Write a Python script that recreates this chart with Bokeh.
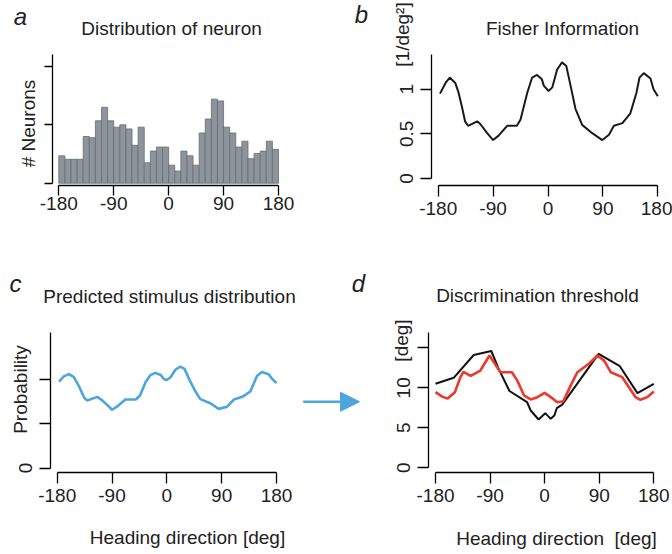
import math
from bokeh.plotting import figure
from bokeh.layouts import column, row
from bokeh.models import (Range1d, FixedTicker, Label, Arrow, NormalHead, GridBox)
from bokeh.embed import file_html
from bokeh.resources import INLINE

# ---------------- data ----------------
XTICKS = [-180, -90, 0, 90, 180]
XTICK_LABELS = ["-180", "-90", "0", "90", "180"]

# (a) histogram of preferred heading (36 bins of 10 deg)
hist_centers = [-175, -165, -155, -145, -135, -125, -115, -105, -95, -85,
                -75, -65, -55, -45, -35, -25, -15, -5, 5, 15,
                25, 35, 45, 55, 65, 75, 85, 95, 105, 115,
                125, 135, 145, 155, 165, 175]
hist_counts = [0.47, 0.41, 0.41, 0.41, 0.80, 0.78, 1.07, 1.30, 1.07, 0.96,
               1.00, 0.93, 0.65, 0.96, 0.35, 0.55, 0.62, 0.62, 0.31, 0.21,
               0.55, 0.47, 0.31, 0.86, 1.10, 1.44, 1.41, 0.96, 0.86, 0.62,
               0.72, 0.42, 0.51, 0.55, 0.72, 0.58]

# (b) Fisher information
fi_x = [-177, -168, -161, -152, -147, -141, -136, -131, -116, -111, -100, -90,
        -81, -67, -51, -45, -34, -26, -18, -10, -7, 1, 7, 15, 23, 30, 37, 45,
        56, 72, 89, 100, 108, 122, 135, 145, 150, 157, 168, 173, 180]
fi_y = [0.95, 1.07, 1.13, 1.07, 0.97, 0.80, 0.64, 0.59, 0.64, 0.61, 0.51, 0.43,
        0.48, 0.59, 0.59, 0.66, 0.96, 1.13, 1.16, 1.11, 1.04, 0.98, 1.02, 1.22,
        1.30, 1.26, 1.04, 0.78, 0.60, 0.51, 0.43, 0.49, 0.59, 0.62, 0.73, 0.96,
        1.13, 1.18, 1.12, 1.00, 0.92]

# (c) predicted stimulus distribution (arbitrary units)
pr_x = [-177, -169, -161, -153, -145, -139, -136, -131, -114, -106, -98, -90,
        -82, -68, -51, -44, -35, -27, -19, -10, -5, 0, 6, 14, 22, 29, 39, 47,
        55, 72, 85, 99, 110, 124, 137, 148, 156, 167, 173, 180]
pr_y = [1.94, 2.06, 2.11, 2.05, 1.86, 1.68, 1.59, 1.52, 1.60, 1.52, 1.42, 1.31,
        1.38, 1.54, 1.54, 1.63, 1.93, 2.09, 2.14, 2.09, 2.00, 1.98, 2.04, 2.21,
        2.28, 2.23, 1.93, 1.72, 1.55, 1.45, 1.33, 1.38, 1.54, 1.60, 1.72, 2.07,
        2.16, 2.11, 2.00, 1.91]

# (d) discrimination threshold: black = data, red = prediction
thr_black_x = [-180, -150, -117, -88, -76, -58, -29, -23, -10, 1, 10, 16, 20,
               29, 89, 124, 153, 180]
thr_black_y = [10.5, 11.25, 14.1, 14.6, 12.4, 9.6, 8.2, 7.16, 6.04, 6.83, 6.12,
               6.54, 7.45, 7.9, 14.25, 12.7, 9.33, 10.5]
thr_red_x = [-180, -169, -160, -148, -139, -134, -122, -106, -91, -73, -54,
             -45, -34, -23, -12, 0, 10, 21, 31, 43, 54, 73, 87, 98, 109, 128,
             139, 150, 158, 169, 180]
thr_red_y = [9.45, 8.9, 8.65, 9.45, 11.3, 12.0, 11.5, 12.16, 14.04, 11.95, 11.95,
             10.9, 9.04, 8.54, 8.83, 9.37, 8.83, 8.2, 8.33, 10.3, 11.95, 13.0,
             14.04, 13.4, 11.95, 11.33, 10.08, 8.83, 8.5, 8.83, 9.54]

# ---------------- style ----------------
FONT = "Liberation Sans"
TXT = "#222222"
FS = "19px"
BLUE = "#4ca6dd"
RED = "#e93a2b"
W, H = 672, 554
COL_W = [380, 292]
ROW_H = [270, 284]


class Panel:
    """Pixel geometry of one panel (page coordinates)."""
    def __init__(self, ox, oy, w, h, fl, fr, ft, fb, xm180, xp180, y0, yunit):
        self.ox, self.oy, self.w, self.h = ox, oy, w, h
        self.fl, self.fr, self.ft, self.fb = fl, fr, ft, fb
        self.k = (xp180 - xm180) / 360.0
        self.xm180 = xm180
        self.y0, self.yunit = y0, yunit
        self.x_start = -180 - (xm180 - fl) / self.k
        self.x_end = 180 + (fr - xp180) / self.k
        self.y_start = -(fb - y0) / yunit
        self.y_end = (y0 - ft) / yunit

    def dx(self, px):
        return -180 + (px - self.xm180) / self.k

    def dy(self, py):
        return (self.y0 - py) / self.yunit


def make_fig(g):
    p = figure(width=g.w, height=g.h, output_backend="svg", toolbar_location=None,
               x_range=Range1d(g.x_start, g.x_end), y_range=Range1d(g.y_start, g.y_end),
               min_border_left=int(round(g.fl - g.ox)), min_border_right=int(round(g.ox + g.w - g.fr)),
               min_border_top=int(round(g.ft - g.oy)), min_border_bottom=int(round(g.oy + g.h - g.fb)))
    p.outline_line_color = None
    p.grid.visible = False
    p.background_fill_color = "white"
    p.border_fill_color = "white"
    for ax in (p.xaxis[0], p.yaxis[0]):
        ax.axis_line_color = "black"
        ax.axis_line_width = 1.3
        ax.major_tick_line_color = "black"
        ax.major_tick_line_width = 1.3
        ax.major_tick_in = 0
        ax.major_tick_out = 11
        ax.minor_tick_line_color = None
        ax.major_label_text_font = FONT
        ax.major_label_text_font_size = FS
        ax.major_label_text_color = TXT
    xa = p.xaxis[0]
    xa.ticker = FixedTicker(ticks=XTICKS)
    xa.major_label_overrides = dict(zip(XTICKS, XTICK_LABELS))
    xa.bounds = (-180, 180)
    xa.major_label_standoff = 5
    ya = p.yaxis[0]
    ya.bounds = (0, g.y_end)
    ya.major_label_orientation = "vertical"
    ya.major_label_standoff = 7
    return p


# overlay figure in page-pixel coordinates for all free text
ov = figure(width=W, height=H, output_backend="svg", toolbar_location=None,
            x_range=Range1d(0, W), y_range=Range1d(H, 0),
            x_axis_type=None, y_axis_type=None,
            min_border_left=0, min_border_right=0, min_border_top=0, min_border_bottom=0)
ov.outline_line_color = None
ov.background_fill_alpha = 0
ov.border_fill_alpha = 0
ov.border_fill_color = None
ov.background_fill_color = None


def text(px, py, s, size=FS, style="normal", angle=0.0):
    """Text centred (both ways) on page pixel (px, py)."""
    ov.add_layout(Label(x=px, y=py, text=s, text_font=FONT,
                        text_font_size=size, text_font_style=style, text_color=TXT,
                        text_align="center", text_baseline="middle", angle=angle))


HALF = math.pi / 2

# ---- panel a ----
ga = Panel(0, 0, COL_W[0], ROW_H[0], 52, 380, 52, 185, 58.3, 278.0, 182.7, 59.3)
pa = make_fig(ga)
pa.vbar(x=hist_centers, top=hist_counts, bottom=0, width=10,
        fill_color="#8d949b", line_color="#666d74", line_width=0.8)
pa.yaxis[0].ticker = FixedTicker(ticks=[0, 1, 2])
pa.yaxis[0].major_label_overrides = {0: "", 1: "", 2: ""}
pa.yaxis[0].major_tick_out = 8
pa.xaxis[0].major_tick_out = 10
pa.xaxis[0].major_label_standoff = 1
text(20, 16, "a", size="24px", style="italic")
text(171, 28, "Distribution of neuron")
text(28, 123, "# Neurons", angle=HALF)

# ---- panel b ----
gb = Panel(COL_W[0], 0, COL_W[1], ROW_H[0], 431, 672, 54, 190, 437.7, 657.3, 182.7, 92.7)
pb = make_fig(gb)
pb.line(fi_x, fi_y, line_color="#1a1a1a", line_width=2.0)
pb.yaxis[0].ticker = FixedTicker(ticks=[0, 0.5, 1])
pb.yaxis[0].major_label_overrides = {0: "0", 0.5: "0.5", 1: "1"}
text(361, 14, "b", size="24px", style="italic")
text(562, 28, "Fisher Information")
text(402, 34, "[1/deg\u00b2]", angle=HALF)

# ---- panel c ----
gc = Panel(0, ROW_H[0], COL_W[0], ROW_H[1], 50, 380, 325, 472, 56.7, 276.0, 467.3, 46.7)
pc = make_fig(gc)
pc.line(pr_x, pr_y, line_color=BLUE, line_width=2.6)
pc.yaxis[0].ticker = FixedTicker(ticks=[0, 1, 2])
pc.yaxis[0].major_label_overrides = {0: "0", 1: "", 2: ""}
ARROW_Y = 397.7
pc.add_layout(Arrow(x_start=gc.dx(302.7), y_start=gc.dy(ARROW_Y),
                    x_end=gc.dx(359.0), y_end=gc.dy(ARROW_Y),
                    line_color=BLUE, line_width=2.6,
                    end=NormalHead(size=19, fill_color=BLUE, line_color=BLUE, line_width=1)))
text(15, 283, "c", size="24px", style="italic")
text(169, 296, "Predicted stimulus distribution")
text(20, 389, "Probability", angle=HALF)
text(187, 537, "Heading direction [deg]")

# ---- panel d ----
gd = Panel(COL_W[0], ROW_H[0], COL_W[1], ROW_H[1], 428, 672, 332, 472, 435.0, 653.3, 467.3, 8.0)
pd = make_fig(gd)
pd.line(thr_black_x, thr_black_y, line_color="#111111", line_width=2.0)
pd.line(thr_red_x, thr_red_y, line_color=RED, line_width=2.6)
pd.yaxis[0].ticker = FixedTicker(ticks=[0, 5, 10, 15])
pd.yaxis[0].major_label_overrides = {0: "0", 5: "5", 10: "10", 15: ""}
text(358, 283, "d", size="24px", style="italic")
text(537, 295, "Discrimination threshold")
text(401, 340, "[deg]", angle=HALF)
text(556, 538, "Heading direction\u00a0 [deg]")

panels = column(row(pa, pb, spacing=0), row(pc, pd, spacing=0), spacing=0)
grid = GridBox(children=[(panels, 0, 0), (ov, 0, 0)], spacing=0)
open("out.html", "w").write(file_html(grid, INLINE))
